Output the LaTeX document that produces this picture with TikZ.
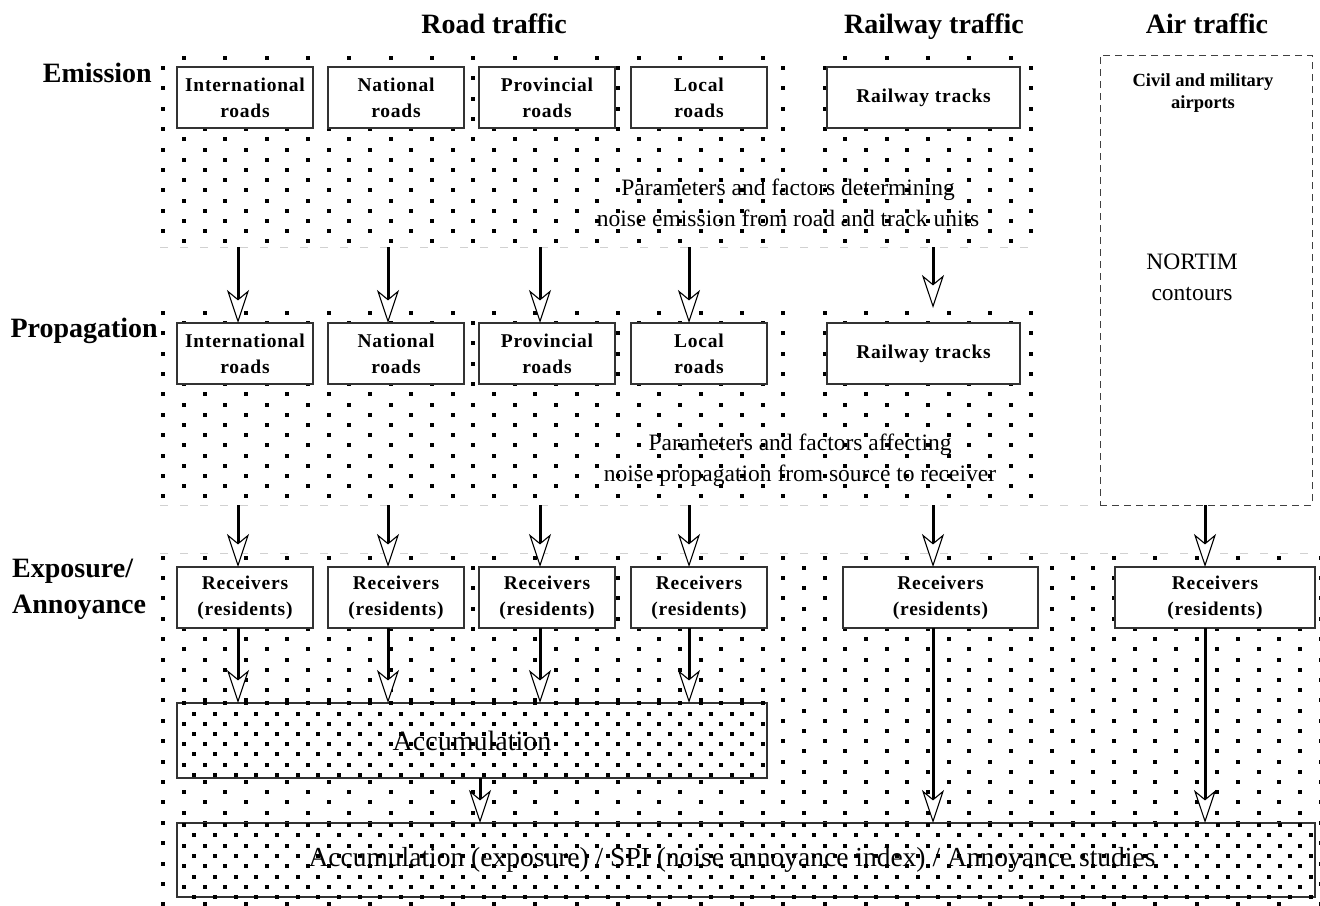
\documentclass[tikz,border=0pt]{standalone}
\usepackage{fontspec}
\setmainfont{Liberation Serif}
\newfontfamily\boxfont[LetterSpace=4.0]{Liberation Serif}
\usetikzlibrary{arrows.meta}

\begin{document}
\begin{tikzpicture}[x=1pt,y=-1pt,
  band/.style={draw=none, inner sep=0, outer sep=0},
  box/.style={draw=black!80, line width=1.1pt, fill=white, inner sep=0, outer sep=0,
    minimum height=61pt, align=center, font=\boxfont\bfseries\fontsize{19.5}{26}\selectfont},
  roadbox/.style={box, minimum width=136pt},
  bigbox/.style={draw=black!80, line width=1.2pt, fill=white, inner sep=0, outer sep=0},
  arr/.style={line width=3pt, -{Stealth[length=33pt, width=22pt, inset=9pt, fill=white, line width=1.1pt]}},
  head/.style={inner sep=0, anchor=base, font=\bfseries\fontsize{28}{36}\selectfont},
  para/.style={inner sep=0, align=center, font=\fontsize{23.5}{31}\selectfont},
  guide/.style={draw=black!18, line width=0.8pt, dash pattern=on 8pt off 12pt},
  dot/.style={fill=black}
]
\useasboundingbox (0,0) rectangle (1320,905);

% invisible band areas (anchors for connectors)
\node[band, minimum width=632pt, minimum height=195pt] (emR) at (476,149.5) {};
\node[band, minimum width=225pt, minimum height=195pt] (emRail) at (920.5,149.5) {};
\node[band, minimum width=632pt, minimum height=197pt] (prR) at (476,406.5) {};
\node[band, minimum width=225pt, minimum height=197pt] (prRail) at (920.5,406.5) {};
\node[band, minimum width=1160pt, minimum height=352pt] (exB) at (740,729) {};

% sparse staggered dots
\begin{scope}
  \clip (160,52) rectangle (792,247) (808,52) rectangle (1033,247)
        (160,308) rectangle (792,502) (808,308) rectangle (1033,502)
        (160,553) rectangle (1322,907);
  \foreach \j in {0,...,83} {
    \pgfmathsetmacro\yy{57.7+10.2*\j}
    \pgfmathsetmacro\xo{isodd(\j) ? 163.33 : 184}
    \foreach \i in {0,...,28} {
      \fill[dot] (\xo+41.33*\i-2, \yy-2) rectangle (\xo+41.33*\i+2, \yy+2);
    }
  }
\end{scope}

% faint band boundaries
\draw[guide] (emR.south west) -- (emRail.south east);
\coordinate (gx) at (1100,0);
\draw[guide] (prR.south west) -- (prR.south west -| gx);
\draw[guide] (exB.north west) -- (exB.north east);

% headings
\node[head] (hroad) at (494,33) {Road traffic};
\node[head] (hrail) at (934,33) {Railway traffic};
\node[head] (hair) at (1207,33) {Air traffic};
\node[head, anchor=base east] (lem) at (152,82) {Emission};
\node[head, anchor=base east] (lpr) at (158,337) {Propagation};
\node[head, anchor=base west] (lex1) at (12,577) {Exposure/};
\node[head, anchor=base west] (lex2) at (12,613) {Annoyance};

% emission boxes
\node[roadbox] (e1) at (245,97.5) {International\\roads};
\node[roadbox] (e2) at (396,97.5) {National\\roads};
\node[roadbox] (e3) at (547,97.5) {Provincial\\roads};
\node[roadbox] (e4) at (699,97.5) {Local\\roads};
\node[box, minimum width=193pt] (erail) at (923.5,97.5) {Railway tracks};

\node[para] (tem) at (788,203) {Parameters and factors determining\\noise emission from road and track units};

% propagation boxes
\node[roadbox] (p1) at (245,353.5) {International\\roads};
\node[roadbox] (p2) at (396,353.5) {National\\roads};
\node[roadbox] (p3) at (547,353.5) {Provincial\\roads};
\node[roadbox] (p4) at (699,353.5) {Local\\roads};
\node[box, minimum width=193pt] (prail) at (923.5,353.5) {Railway tracks};

\node[para] (tpr) at (800,460) {Parameters and factors affecting\\noise propagation from source to receiver};

% air traffic box
\node[draw=black!75, dash pattern=on 7pt off 5pt, line width=1pt, inner sep=0, outer sep=0,
  minimum width=212pt, minimum height=450pt] (air) at (1206,280) {};
\node[inner sep=0, align=center, font=\bfseries\fontsize{18.5}{22}\selectfont] (tair) at (1203,93) {Civil and military\\airports};
\node[para] (tnor) at (1192,277) {NORTIM\\contours};

% receivers
\node[roadbox] (r1) at (245,597.5) {Receivers\\(residents)};
\node[roadbox] (r2) at (396,597.5) {Receivers\\(residents)};
\node[roadbox] (r3) at (547,597.5) {Receivers\\(residents)};
\node[roadbox] (r4) at (699,597.5) {Receivers\\(residents)};
\node[box, minimum width=195pt] (rr) at (940.5,597.5) {Receivers\\(residents)};
\node[box, minimum width=200pt] (ra) at (1215,597.5) {Receivers\\(residents)};

% accumulation boxes with dense dots
\node[bigbox, minimum width=590pt, minimum height=75pt] (acc) at (472,740.5) {};
\node[bigbox, minimum width=1138pt, minimum height=74pt] (tot) at (746,860) {};
\begin{scope}
  \clip (175,700) rectangle (769,780);
  \foreach \k in {0,...,7} {
    \pgfmathsetmacro\yy{703.3+10.2*\k}
    \pgfmathsetmacro\xo{isodd(\k) ? 194.33 : 184}
    \foreach \i in {0,...,28} {
      \fill[dot] (\xo+20.67*\i-2, \yy-2) rectangle (\xo+20.67*\i+2, \yy+2);
    }
  }
\end{scope}
\begin{scope}
  \clip (175,820) rectangle (1317,900);
  \foreach \k in {0,...,7} {
    \pgfmathsetmacro\yy{825+10.3*\k}
    \pgfmathsetmacro\xo{isodd(\k) ? 194.33 : 184}
    \foreach \i in {0,...,55} {
      \fill[dot] (\xo+20.67*\i-2, \yy-2) rectangle (\xo+20.67*\i+2, \yy+2);
    }
  }
\end{scope}
\node[inner sep=0, font=\fontsize{28}{32}\selectfont] (tacc) at (acc) {Accumulation};
\node[inner sep=0, font=\fontsize{27.5}{32}\selectfont] (ttot) at (732,860) {Accumulation (exposure) / SPI (noise annoyance index) / Annoyance studies};

% arrow columns
\coordinate (c1) at (238,0);
\coordinate (c2) at (388,0);
\coordinate (c3) at (540,0);
\coordinate (c4) at (689,0);
\coordinate (cr) at (933,0);
\coordinate (ca) at (1205,0);
\coordinate (cacc) at (480,0);

% emission -> propagation
\draw[arr] (emR.south -| c1) -- (p1.north -| c1);
\draw[arr] (emR.south -| c2) -- (p2.north -| c2);
\draw[arr] (emR.south -| c3) -- (p3.north -| c3);
\draw[arr] (emR.south -| c4) -- (p4.north -| c4);
\draw[arr] (emRail.south -| cr) -- (prRail.north -| cr);

% propagation -> receivers
\draw[arr] (prR.south -| c1) -- (r1.north -| c1);
\draw[arr] (prR.south -| c2) -- (r2.north -| c2);
\draw[arr] (prR.south -| c3) -- (r3.north -| c3);
\draw[arr] (prR.south -| c4) -- (r4.north -| c4);
\draw[arr] (prRail.south -| cr) -- (rr.north -| cr);
\draw[arr] (air.south -| ca) -- (ra.north -| ca);

% receivers -> accumulation
\draw[arr] (r1.south -| c1) -- (acc.north -| c1);
\draw[arr] (r2.south -| c2) -- (acc.north -| c2);
\draw[arr] (r3.south -| c3) -- (acc.north -| c3);
\draw[arr] (r4.south -| c4) -- (acc.north -| c4);

% to total
\draw[arr] (acc.south -| cacc) -- (tot.north -| cacc);
\draw[arr] (rr.south -| cr) -- (tot.north -| cr);
\draw[arr] (ra.south -| ca) -- (tot.north -| ca);
\end{tikzpicture}
\end{document}
